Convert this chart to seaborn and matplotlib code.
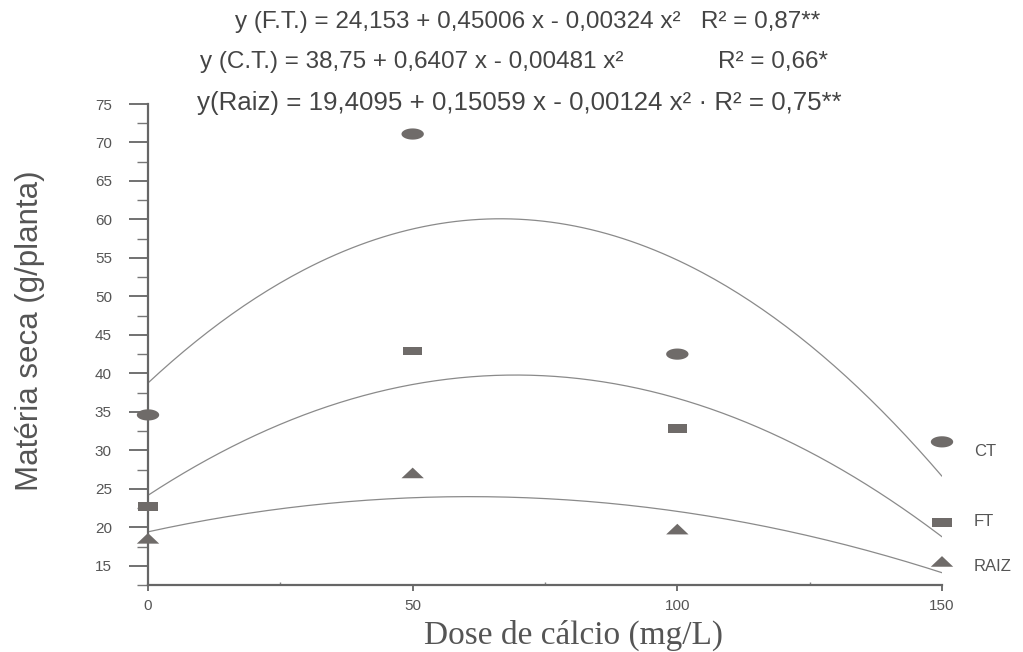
import numpy as np
import pandas as pd
import matplotlib
matplotlib.use("Agg")
import matplotlib.pyplot as plt
from matplotlib.ticker import MultipleLocator
import seaborn as sns

# ---- data ----
doses = [0, 50, 100, 150]
ct_values = [34.6, 71.1, 42.5, 31.1]
ft_values = [22.7, 42.9, 32.8, 20.6]
raiz_values = [18.6, 27.1, 19.8, 15.6]

# regression coefficients printed on the chart (a, b, c for a + b x + c x^2)
ct_coef = [38.75, 0.6407, -0.00481]
ft_coef = [24.153, 0.45006, -0.00324]
raiz_coef = [19.4095, 0.15059, -0.00124]

series_labels = ["CT", "FT", "RAIZ"]
equations = [
    "y (F.T.) = 24,153 + 0,45006 x - 0,00324 x²   R² = 0,87**",
    "y (C.T.) = 38,75 + 0,6407 x - 0,00481 x²              R² = 0,66*",
    "y(Raiz) = 19,4095 + 0,15059 x - 0,00124 x² · R² = 0,75**",
]
x_ticks = [0, 50, 100, 150]
y_ticks = list(range(15, 80, 5))

sns.set_theme(style="white")
plt.rcParams["font.family"] = ["Liberation Sans", "DejaVu Sans"]

gray = "#6f6b69"
line_gray = "#8a8a8a"
txt_gray = "#555555"

fig = plt.figure(figsize=(10.23, 6.52), dpi=100)
ax = fig.add_axes([148 / 1023, 1 - 585 / 652, (942 - 148) / 1023, (585 - 104) / 652])

# custom flat markers
ellipse = [(np.cos(t), 0.5 * np.sin(t)) for t in np.linspace(0, 2 * np.pi, 40)]
rect = [(-1, -0.45), (1, -0.45), (1, 0.45), (-1, 0.45), (-1, -0.45)]
tri = [(-1, -0.5), (1, -0.5), (0, 0.45), (-1, -0.5)]

xs = np.linspace(0, 150, 200)
for coef in [ct_coef, ft_coef, raiz_coef]:
    curve = pd.DataFrame({"x": xs, "y": coef[0] + coef[1] * xs + coef[2] * xs ** 2})
    sns.lineplot(data=curve, x="x", y="y", ax=ax, color=line_gray, lw=0.9)

for vals, mk, sz in [(ct_values, ellipse, 260), (ft_values, rect, 200), (raiz_values, tri, 260)]:
    df = pd.DataFrame({"x": doses, "y": vals})
    sns.scatterplot(data=df, x="x", y="y", ax=ax, marker=mk, s=sz, color=gray,
                    edgecolor="none", zorder=5, clip_on=False)

ax.set_xlim(0, 150)
ax.set_ylim(12.5, 75)
ax.set_xticks(x_ticks)
ax.set_yticks(y_ticks)
ax.xaxis.set_minor_locator(MultipleLocator(25))
ax.yaxis.set_minor_locator(MultipleLocator(2.5))
ax.tick_params(axis="y", which="major", direction="out", length=14, width=1.3, left=True,
               color="#666666", labelcolor=txt_gray, labelsize=11, pad=12)
ax.tick_params(axis="x", which="major", direction="out", length=4, width=1.3, bottom=True,
               color="#666666", labelcolor=txt_gray, labelsize=11, pad=6)
ax.tick_params(axis="y", which="minor", direction="out", length=8, width=1, color="#777777", left=True)
ax.tick_params(axis="x", which="minor", direction="in", length=2, width=1, color="#888888", bottom=True)
for s in ["top", "right"]:
    ax.spines[s].set_visible(False)
for s in ["left", "bottom"]:
    ax.spines[s].set_color("#666666")
    ax.spines[s].set_linewidth(1.6)

ax.set_xlabel("Dose de cálcio (mg/L)", family=["Liberation Serif", "DejaVu Serif"],
              fontsize=24, color=txt_gray, va="center")
ax.xaxis.set_label_coords(0.5365, -0.104)
ax.set_ylabel("Matéria seca (g/planta)", fontsize=22.5, color=txt_gray, va="center")
ax.yaxis.set_label_coords(-0.1486, 0.528)

# series labels at right
label_y = [29.8, 20.7, 14.9]
for lab, yv in zip(series_labels, label_y):
    ax.text(156, yv, lab, fontsize=12, color=txt_gray, va="center", ha="left", clip_on=False)

# equations
fig.text(235 / 1023, 1 - 22 / 652, equations[0], fontsize=17.5, color="#444444", va="center")
fig.text(200 / 1023, 1 - 62 / 652, equations[1], fontsize=17.5, color="#444444", va="center")
fig.text(197 / 1023, 1 - 103 / 652, equations[2], fontsize=18.6, color="#444444", va="center")

fig.savefig("out.png", dpi=100, facecolor="white")
